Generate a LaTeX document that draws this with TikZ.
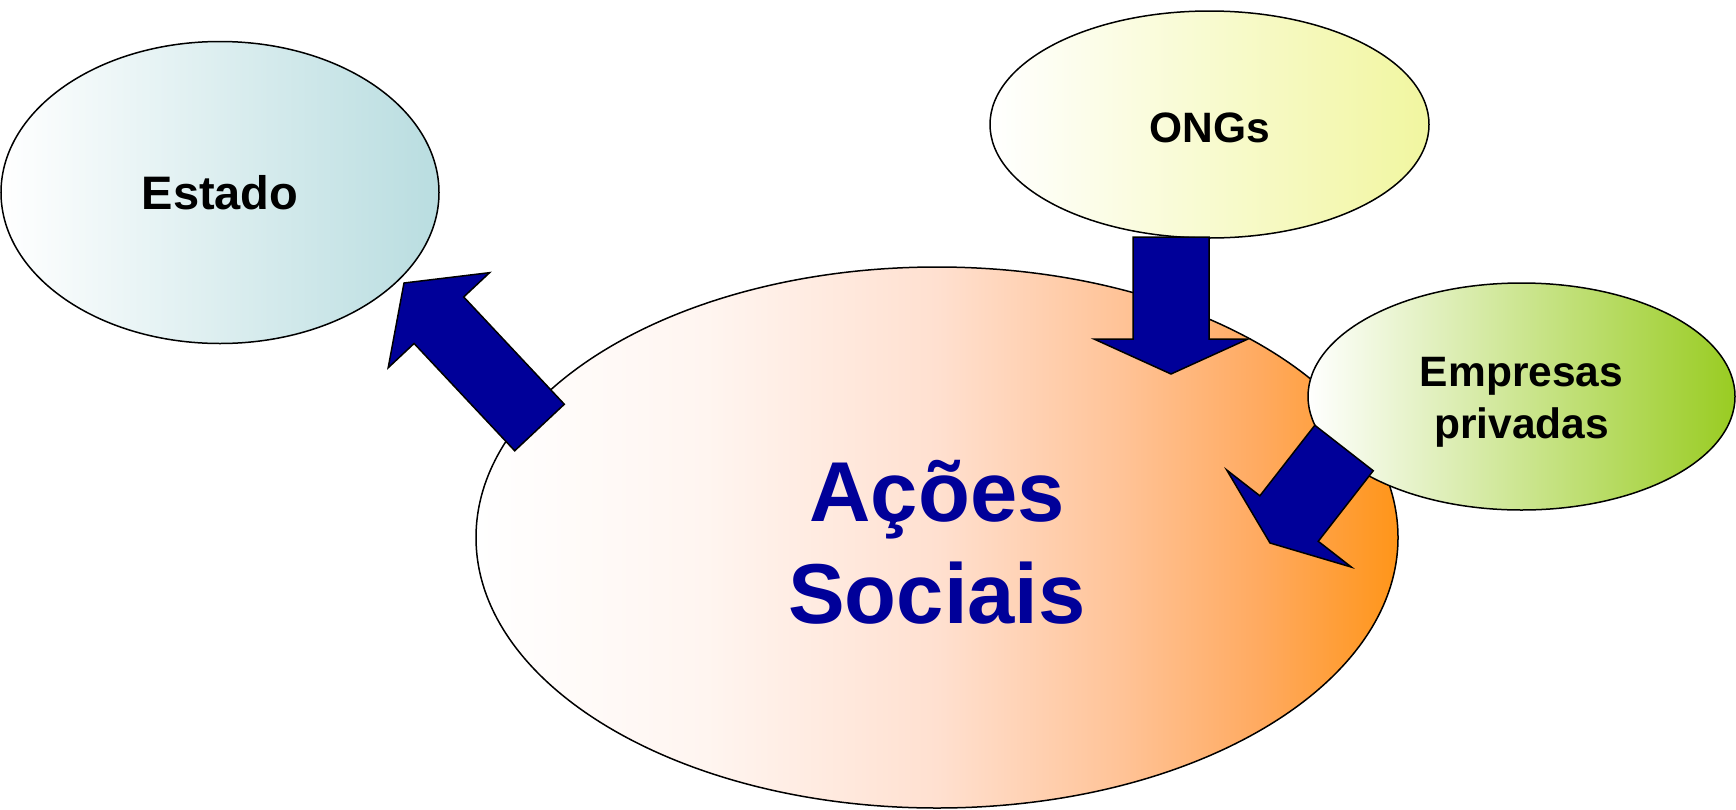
\documentclass[tikz,border=0pt]{standalone}
\usepackage{fontspec}
\setmainfont{Liberation Sans}
\usetikzlibrary{shapes.geometric,calc}

\definecolor{arrowblue}{HTML}{000099}
\definecolor{estadoteal}{HTML}{B9DDE0}
\definecolor{ongsyellow}{HTML}{F1F6A0}
\definecolor{empresasgreen}{HTML}{99CC22}
\definecolor{acoespale}{HTML}{FFF5F0}
\definecolor{acoespeach}{HTML}{FFE0D0}
\definecolor{acoessalmon}{HTML}{FFC397}
\definecolor{acoesamber}{HTML}{FFAA60}
\definecolor{acoesorange}{HTML}{FF9519}

\pgfdeclarehorizontalshading{acoesshade}{100bp}{color(0bp)=(white); color(25bp)=(white);
  color(37.5bp)=(acoespale); color(50bp)=(acoespeach); color(60bp)=(acoessalmon);
  color(67.5bp)=(acoesamber); color(75bp)=(acoesorange); color(100bp)=(acoesorange)}

% tail, tip, half shaft, half head, head length
\newcommand{\blockarrow}[5]{%
  \path ($(#2)!#5!(#1)$) coordinate (headbase);
  \draw[blockbody] ($(#1)!#3!90:(#2)$) -- ($(headbase)!#3!90:(#2)$) -- ($(headbase)!#4!90:(#2)$)
    -- (#2) -- ($(headbase)!#4!-90:(#2)$) -- ($(headbase)!#3!-90:(#2)$) -- ($(#1)!#3!-90:(#2)$) -- cycle;}

\begin{document}
\begin{tikzpicture}[x=1pt,y=-1pt,
    ovalbox/.style={ellipse,draw,line width=1.5pt,inner sep=0pt,align=center,
      font=\bfseries\fontsize{42.5}{52}\selectfont},
    blockbody/.style={draw,fill=arrowblue,line width=1.5pt}]

  \useasboundingbox (0,0) rectangle (1736,809);

  \node[ovalbox,left color=white,right color=estadoteal,font=\bfseries\fontsize{47}{52}\selectfont,
    minimum width=438pt,minimum height=302pt] (estado) at (220,192.5) {Estado};
  \node[ovalbox,left color=white,right color=ongsyellow,
    minimum width=439pt,minimum height=227pt] (ongs) at (1209.5,124.5) {\rule{0pt}{36pt}ONGs};
  \node[ovalbox,shade,shading=acoesshade,text=arrowblue,
    font=\bfseries\fontsize{85}{102}\selectfont,
    minimum width=922pt,minimum height=541pt] (acoes) at (937,537.5) {\rule{0pt}{70pt}Ações\\Sociais};
  \node[ovalbox,left color=white,right color=empresasgreen,
    minimum width=427pt,minimum height=227pt] (empresas) at (1521.5,396.5) {\rule{0pt}{41pt}Empresas\\privadas};

  \coordinate (acoestail) at (539.5,427.5);
  \coordinate (estadotip) at (404,283);
  \coordinate (ongstail) at (1171,237);
  \coordinate (ongstip) at (1171,374);
  \coordinate (empresastail) at (1344,448);
  \coordinate (empresastip) at (1270,543);

  \blockarrow{acoestail}{estadotip}{34pt}{69.5pt}{51pt}
  \blockarrow{ongstail}{ongstip}{38pt}{77pt}{35pt}
  \blockarrow{empresastail}{empresastip}{37pt}{79pt}{31pt}

\end{tikzpicture}
\end{document}
